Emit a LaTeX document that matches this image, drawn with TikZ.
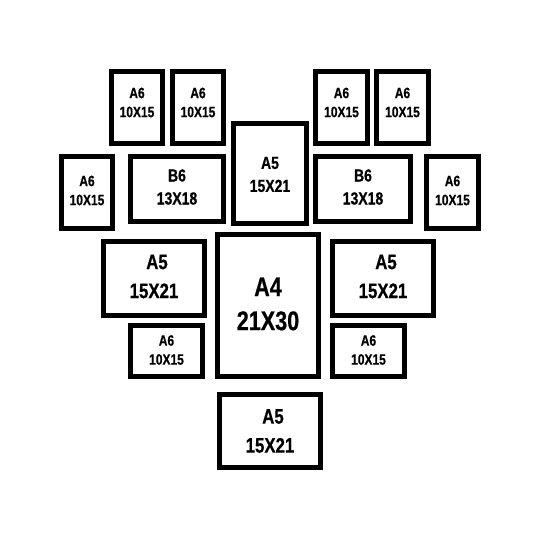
\documentclass[tikz,border=0pt]{standalone}
\usepackage{fontspec}
\setmainfont{Liberation Sans}[FakeStretch=0.8,BoldFeatures={FakeBold=0.6}]
\begin{document}
\begin{tikzpicture}[x=1pt,y=-1pt,
  frame/.style={draw=black,line width=5pt,fill=white,inner sep=0pt,outer sep=0pt},
  lbl/.style={align=center,inner sep=0pt,font=\bfseries},
  sA6/.style={lbl,font=\bfseries\fontsize{15}{19}\selectfont},
  sB6/.style={lbl,font=\bfseries\fontsize{17.5}{23}\selectfont},
  sA5/.style={lbl,font=\bfseries\fontsize{21}{29}\selectfont},
  sA4/.style={lbl,font=\bfseries\fontsize{27}{34}\selectfont}]
\newcommand\pframe[5]{%
  \node[frame,minimum width={(#4-#2-5)*1pt},minimum height={(#5-#3-5)*1pt}]
    (#1) at ({(#2+#4)/2},{(#3+#5)/2}) {};}
\useasboundingbox (0,0) rectangle (540,540);
\fill[white] (0,0) rectangle (540,540);
% top row A6
\pframe{ta}{109}{69}{165}{146}
\pframe{tb}{170}{69}{226}{146}
\pframe{tc}{313}{69}{370}{146}
\pframe{td}{374}{69}{431}{146}
% second row
\pframe{la}{59}{154}{115}{231}
\pframe{lb}{128}{154}{226}{224}
\pframe{ca}{231}{121}{309}{226}
\pframe{rb}{313}{154}{413}{224}
\pframe{ra}{424}{154}{481}{231}
% third row
\pframe{lf}{101}{239}{207}{318}
\pframe{a4}{215}{232}{321}{379}
\pframe{rf}{330}{239}{436}{318}
\pframe{ls}{128}{323}{205}{379}
\pframe{rs}{330}{323}{407}{379}
\pframe{bt}{217}{392}{323}{470}
% labels
\node[sA6] (ta-t) at ([yshift=5pt]ta.center) {A6\\10X15};
\node[sA6] (tb-t) at ([yshift=5pt]tb.center) {A6\\10X15};
\node[sA6] (tc-t) at ([yshift=5pt]tc.center) {A6\\10X15};
\node[sA6] (td-t) at ([yshift=5pt]td.center) {A6\\10X15};
\node[sA6] (la-t) at ([yshift=2pt]la.center) {A6\\10X15};
\node[sA6] (ra-t) at ([yshift=2pt]ra.center) {A6\\10X15};
\node[sB6] (lb-t) at ([yshift=2pt]lb.center) {B6\\13X18};
\node[sB6] (rb-t) at ([yshift=2pt]rb.center) {B6\\13X18};
\node[sB6] (ca-t) at ([yshift=-1pt]ca.center) {A5\\15X21};
\node[sA5] (lf-t) at ([yshift=2pt]lf.center) {\hspace*{6pt}A5\\15X21};
\node[sA5] (rf-t) at ([yshift=2pt]rf.center) {\hspace*{6pt}A5\\15X21};
\node[sA4] (a4-t) at ([yshift=1.5pt]a4.center) {A4\\21X30};
\node[sA6] (ls-t) at ([yshift=1pt]ls.center) {A6\\10X15};
\node[sA6] (rs-t) at ([yshift=1pt]rs.center) {A6\\10X15};
\node[sA5] (bt-t) at (bt.center) {\hspace*{6pt}A5\\15X21};
\end{tikzpicture}
\end{document}
